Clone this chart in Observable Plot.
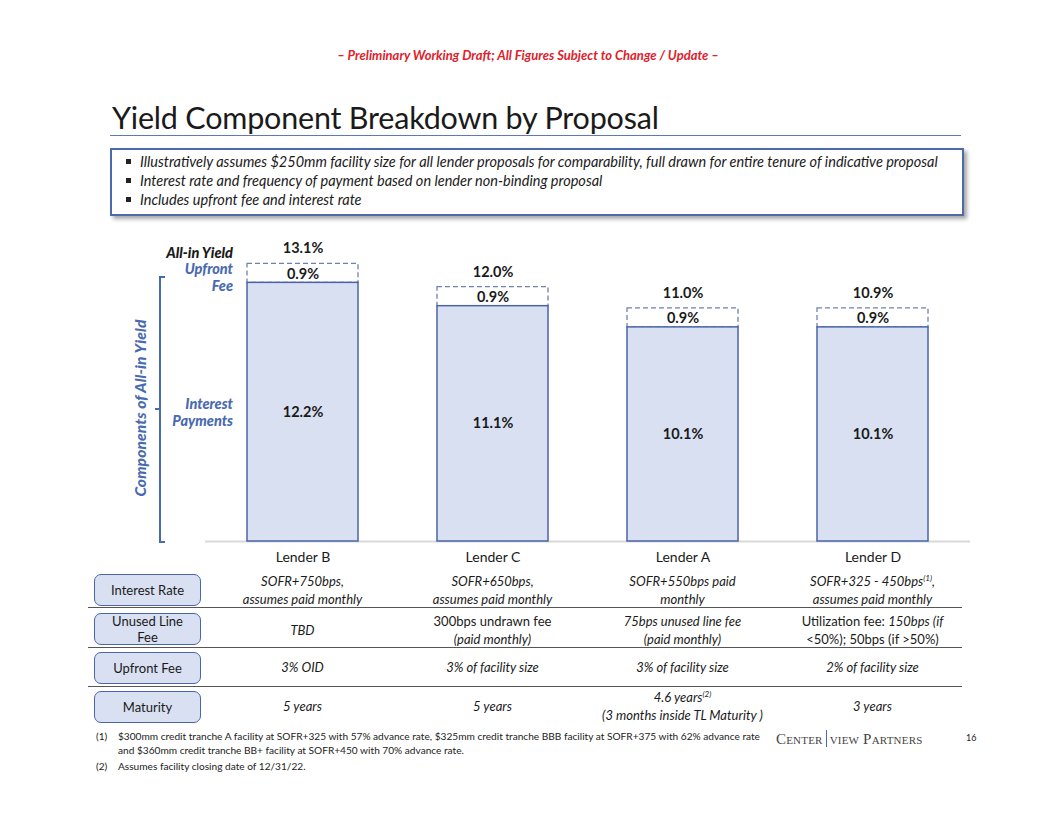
<!DOCTYPE html>
<html>
<head>
<meta charset="utf-8">
<script src="https://cdn.jsdelivr.net/npm/d3@7"></script>
<script src="https://cdn.jsdelivr.net/npm/@observablehq/plot@0.6"></script>
<style>
  html, body { margin:0; padding:0; background:#fff; }
  body { width:1056px; height:816px; position:relative; overflow:hidden; font-family: Lato, "Noto Sans", sans-serif; color:#1a1a1a; }
  .abs { position:absolute; white-space:nowrap; }
  .draft { left:0; width:1056px; top:47px; text-align:center; color:#e0202a; font-weight:bold; font-style:italic; font-size:13px; }
  .title { left:112px; top:99px; font-size:30.5px; color:#1a1a1a; letter-spacing:-0.2px; }
  .rule { left:110px; top:135px; width:851px; height:0; border-top:1.5px solid #5d7bb0; }
  .box { left:110px; top:148px; width:850px; height:64px; border:2px solid #4d6ba8; box-shadow:3px 3px 4px rgba(0,0,0,0.35); background:#fff; }
  .bul { left:126px; font-style:italic; font-size:14.5px; color:#1a1a1a; }
  .bul span.sq { display:inline-block; width:5px; height:5px; background:#222; margin-right:9px; vertical-align:middle; position:relative; top:-2px; }
  .lbl { font-weight:900; font-style:italic; font-size:14.5px; text-align:right; width:140px; }
  .blue { color:#4a6ab0; }
  .pill { left:94px; width:105px; height:30px; border:1.5px solid #4a66a8; border-radius:7px; background:#d9e0f2; display:flex; align-items:center; justify-content:center; text-align:center; font-size:13px; line-height:16px; color:#1a1a1a; }
  .sep { left:88px; width:874px; height:0; border-top:1.5px solid #555; }
  .cell { width:190px; text-align:center; font-size:13px; line-height:18px; color:#1a1a1a; }
  .it { font-style:italic; }
  sup { font-size:8px; line-height:0; vertical-align:super; }
  .fn { font-size:10.15px; color:#222; line-height:14px; }
  .logo { left:776px; top:731px; font-family:"Liberation Serif", serif; font-variant:small-caps; font-size:15px; color:#444; letter-spacing:0.2px; }
  .logo .bar { display:inline-block; width:1px; height:17px; background:#4a6ab0; vertical-align:middle; margin:0 3px; position:relative; top:-2px; }
</style>
</head>
<body>
<script>
// ---------- data ----------
const lenders = ["Lender B", "Lender C", "Lender A", "Lender D"];
const interestPayments = [12.2, 11.1, 10.1, 10.1];
const upfrontFee = [0.9, 0.9, 0.9, 0.9];
const allInYield = [13.1, 12.0, 11.0, 10.9];

const rowLabels = ["Interest Rate", "Unused Line<br>Fee", "Upfront Fee", "Maturity"];
const interestRateText = [
  ["<span class='it'>SOFR+750bps,</span>", "<span class='it'>assumes paid monthly</span>"],
  ["<span class='it'>SOFR+650bps,</span>", "<span class='it'>assumes paid monthly</span>"],
  ["<span class='it'>SOFR+550bps paid</span>", "<span class='it'>monthly</span>"],
  ["<span class='it'>SOFR+325 - 450bps<sup>(1)</sup>,</span>", "<span class='it'>assumes paid monthly</span>"]
];
const unusedFeeText = [
  ["<span class='it'>TBD</span>"],
  ["300bps undrawn fee", "<span class='it'>(paid monthly)</span>"],
  ["<span class='it'>75bps unused line fee</span>", "<span class='it'>(paid monthly)</span>"],
  ["Utilization fee: <span class='it'>150bps (if</span>", "&lt;50%); 50bps (if &gt;50%)"]
];
const upfrontFeeText = [
  ["<span class='it'>3% OID</span>"],
  ["<span class='it'>3% of facility size</span>"],
  ["<span class='it'>3% of facility size</span>"],
  ["<span class='it'>2% of facility size</span>"]
];
const maturityText = [
  ["<span class='it'>5 years</span>"],
  ["<span class='it'>5 years</span>"],
  ["<span class='it'>4.6 years<sup>(2)</sup></span>", "<span class='it'>(3 months inside TL Maturity )</span>"],
  ["<span class='it'>3 years</span>"]
];
const bullets = [
  "Illustratively assumes $250mm facility size for all lender proposals for comparability, full drawn for entire tenure of indicative proposal",
  "Interest rate and frequency of payment based on lender non-binding proposal",
  "Includes upfront fee and interest rate"
];
const footnotes = [
  ["(1)", "$300mm credit tranche A facility at SOFR+325 with 57% advance rate, $325mm credit tranche BBB facility at SOFR+375 with 62% advance rate<br>and $360mm credit tranche BB+ facility at SOFR+450 with 70% advance rate."],
  ["(2)", "Assumes facility closing date of 12/31/22."]
];

// ---------- helpers ----------
function add(cls, html, style) {
  const d = document.createElement("div");
  d.className = "abs " + cls;
  d.innerHTML = html;
  Object.assign(d.style, style || {});
  document.body.appendChild(d);
  return d;
}

// header
add("draft", "– Preliminary Working Draft; All Figures Subject to Change / Update –");
add("title", "Yield Component Breakdown by Proposal");
add("rule", "");
add("box", "");
bullets.forEach((b, i) => add("bul", "<span class='sq'></span>" + b, {top: (153 + i * 19) + "px"}));

// ---------- chart ----------
const data = lenders.map((l, i) => ({
  lender: l, interest: interestPayments[i], fee: upfrontFee[i], total: allInYield[i],
  top: interestPayments[i] + upfrontFee[i]
}));
const fmt = v => v.toFixed(1) + "%";
const pxPerPct = 21.2;
const base = 311;

const chart = Plot.plot({
  width: 1056, height: 345,
  marginLeft: 205, marginRight: 86, marginTop: 0, marginBottom: 34,
  style: {fontFamily: "Lato, 'Noto Sans', sans-serif", background: "transparent", overflow: "visible"},
  x: {type: "band", domain: lenders, range: [187.7, 987.2], paddingInner: 0.414, paddingOuter: 0.3, label: null},
  y: {domain: [0, 14], range: [base, base - 14 * pxPerPct], axis: null},
  marks: [
    Plot.ruleY([0], {stroke: "#d9d9d9", strokeWidth: 2}),
    Plot.barY(data, {x: "lender", y1: "interest", y2: "top", fill: "none", stroke: "#7082ad", strokeWidth: 1.3, strokeDasharray: "5,3", inset: 0}),
    Plot.barY(data, {x: "lender", y1: 0, y2: "interest", fill: "#d9e0f2", stroke: "#4a64a6", strokeWidth: 1.5, inset: 0}),
    Plot.text(data, {x: "lender", y: d => d.interest / 2, text: d => fmt(d.interest), fontSize: 14.5, fontWeight: "bold", fill: "#1a1a1a"}),
    Plot.text(data, {x: "lender", y: d => d.interest + d.fee / 2, dy: 1, text: d => fmt(d.fee), fontSize: 14.5, fontWeight: "bold", fill: "#1a1a1a"}),
    Plot.text(data, {x: "lender", y: "top", dy: -15, text: d => fmt(d.total), fontSize: 14.5, fontWeight: "bold", fill: "#1a1a1a"}),
    Plot.axisX({tickSize: 0, tickPadding: 11, fontSize: 14, fill: "#1a1a1a", label: null})
  ]
});
const holder = document.createElement("div");
holder.style.cssText = "position:absolute;left:0;top:230px;width:1056px;height:345px;";
holder.appendChild(chart);
document.body.appendChild(holder);

// left annotations
add("lbl", "All-in Yield", {left: "93px", top: "244px", color: "#1a1a1a"});
add("lbl blue", "Upfront", {left: "93px", top: "260px"});
add("lbl blue", "Fee", {left: "93px", top: "277px"});
add("lbl blue", "Interest", {left: "93px", top: "395px"});
add("lbl blue", "Payments", {left: "93px", top: "412px"});
// bracket
add("", "", {left: "159px", top: "276px", width: "2px", height: "267px", background: "#4a6ab0"});
add("", "", {left: "159px", top: "276px", width: "6px", height: "2px", background: "#4a6ab0"});
add("", "", {left: "159px", top: "541px", width: "6px", height: "2px", background: "#4a6ab0"});
add("", "", {left: "155px", top: "408px", width: "5px", height: "2px", background: "#4a6ab0"});
add("blue", "Components of All-in Yield", {left: "140px", top: "408px", transform: "translate(-50%,-50%) rotate(-90deg)", fontWeight: "900", fontStyle: "italic", fontSize: "15.5px", letterSpacing: "0.15px"});

// ---------- table ----------
const xs = chart.scale("x");
const centers = lenders.map(l => xs.apply(l) + xs.bandwidth / 2);

[607, 647, 686].forEach(y => add("sep", "", {top: y + "px"}));
const pillTops = [574, 613, 652, 691];
rowLabels.forEach((r, i) => add("pill", r, {top: pillTops[i] + "px"}));

const rows = [interestRateText, unusedFeeText, upfrontFeeText, maturityText];
const rowCenters = [590, 629.5, 667, 706];
rows.forEach((row, ri) => {
  row.forEach((lines, ci) => {
    const h = lines.length * 18;
    add("cell", lines.join("<br>"), {left: (centers[ci] - 95) + "px", top: (rowCenters[ri] - h / 2) + "px"});
  });
});

// footnotes
footnotes.forEach((f, i) => {
  const top = i === 0 ? 729 : 759;
  add("fn", f[0], {left: "96px", top: top + "px"});
  add("fn", f[1], {left: "118px", top: top + "px"});
});
add("logo", "Center<span class='bar'></span>view Partners");
add("fn", "16", {left: "966px", top: "731px", fontSize: "9px"});
</script>
</body>
</html>
